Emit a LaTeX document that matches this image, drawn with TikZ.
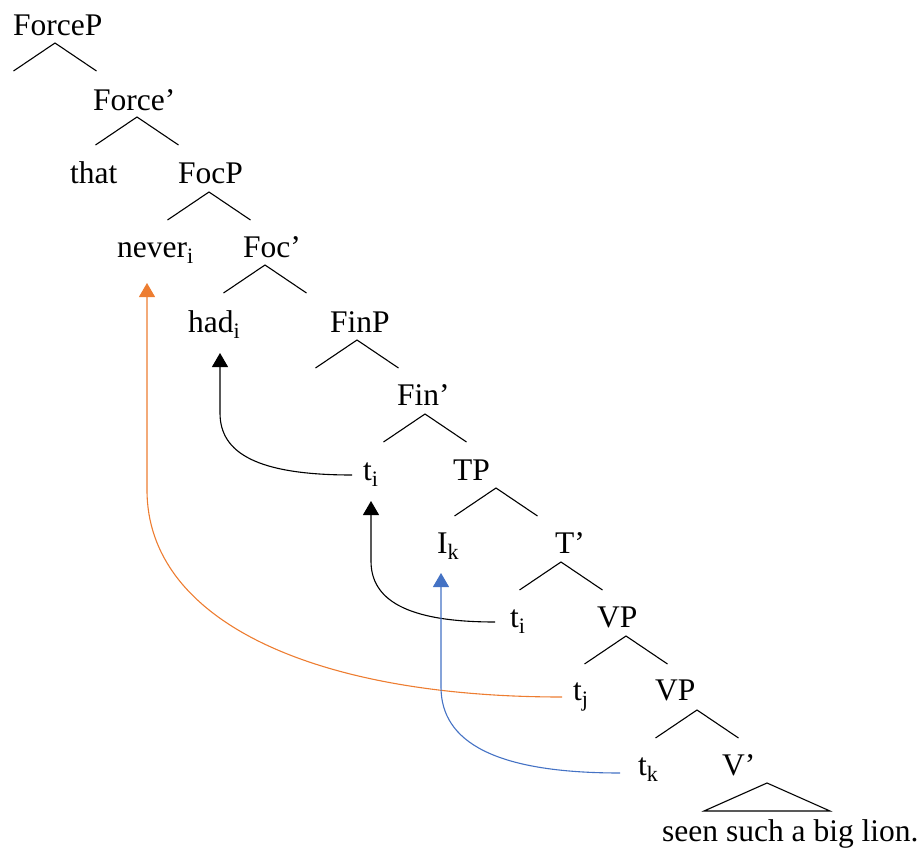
\documentclass[tikz,border=0pt]{standalone}
\usepackage{fontspec}
\setmainfont{Liberation Serif}
\usepackage{tikz}
\usetikzlibrary{arrows.meta}
\definecolor{MoveOrange}{RGB}{237,125,49}
\definecolor{MoveBlue}{RGB}{68,114,196}
\NewDocumentCommand{\DrawBranch}{O{} m m}{%
    \def\BranchX{#2}
    \def\BranchY{#3}
    %
    \draw [#1] (\BranchX,\BranchY) ++(-41.5,28) -- (\BranchX,\BranchY) -- ++(41.5,28);
}

\begin{document}
\begin{tikzpicture}[
    x=1pt, y=-1pt,% one unit is one pixel of the original
    word/.style={anchor=base west, inner sep=0pt, font=\fontsize{31.5}{36}\selectfont},
    branch/.style={line width=1.1pt, black},
    move/.style={line width=1.1pt, -{Triangle[length=14pt,width=16pt]}},
    ]

    \useasboundingbox (0,0) rectangle (922,854);

    \node[word] (ForceP) at (13,35) {ForceP};
    \node[word] (ForceBar) at (93,110) {Force’};
    \node[word] (that) at (70,183) {that};
    \node[word] (FocP) at (178,183) {FocP};
    \node[word] (never) at (117,257) {never\textsubscript{i}};
    \node[word] (FocBar) at (243,257) {Foc’};
    \node[word] (had) at (188,332) {had\textsubscript{i}};
    \node[word] (FinP) at (330,332) {FinP};
    \node[word] (FinBar) at (397,405) {Fin’};
    \node[word] (tiHigh) at (363,480) {t\textsubscript{i}};
    \node[word] (TP) at (453,480) {TP};
    \node[word] (Ik) at (437,553) {I\textsubscript{k}};
    \node[word] (TBar) at (555,553) {T’};
    \node[word] (tiLow) at (510,627) {t\textsubscript{i}};
    \node[word] (VPhigh) at (597,627) {VP};
    \node[word] (tj) at (573,700) {t\textsubscript{j}};
    \node[word] (VPlow) at (655,700) {VP};
    \node[word] (tk) at (638,775) {t\textsubscript{k}};
    \node[word] (VBar) at (722,775) {V’};
    \node[word] (lion) at (662,841) {seen such a big lion.};

    \DrawBranch[branch]{55}{43}
    \DrawBranch[branch]{137}{117}
    \DrawBranch[branch]{209}{192}
    \DrawBranch[branch]{265}{265}
    \DrawBranch[branch]{357}{340}
    \DrawBranch[branch]{425}{414}
    \DrawBranch[branch]{496}{488}
    \DrawBranch[branch]{561}{562}
    \DrawBranch[branch]{626}{636}
    \DrawBranch[branch]{697}{710}
    \draw[branch] (767,783) -- (830,811) -- (704,811) -- cycle;

    % movement arrows
    \draw[move] ([xshift=-11pt,yshift=5pt]tiHigh.base west)
        .. controls +(-95,0) and +(0,40) .. ([xshift=32pt,yshift=-81pt]had.base west)
        -- ([xshift=32pt,yshift=-21pt]had.base west);
    \draw[move] ([xshift=-15pt,yshift=5pt]tiLow.base west)
        .. controls +(-90,0) and +(0,38) .. ([xshift=8pt,yshift=-81pt]tiHigh.base west)
        -- ([xshift=8pt,yshift=-21pt]tiHigh.base west);
    \draw[move, MoveOrange] ([xshift=-11pt,yshift=3pt]tj.base west)
        .. controls +(-250,0) and +(0,130) .. ([xshift=30pt,yshift=-233pt]never.base west)
        -- ([xshift=30pt,yshift=-26pt]never.base west);
    \draw[move, MoveBlue] ([xshift=-18pt,yshift=2pt]tk.base west)
        .. controls +(-125,0) and +(0,55) .. ([xshift=4pt,yshift=-134pt]Ik.base west)
        -- ([xshift=4pt,yshift=-20pt]Ik.base west);

\end{tikzpicture}
\end{document}
